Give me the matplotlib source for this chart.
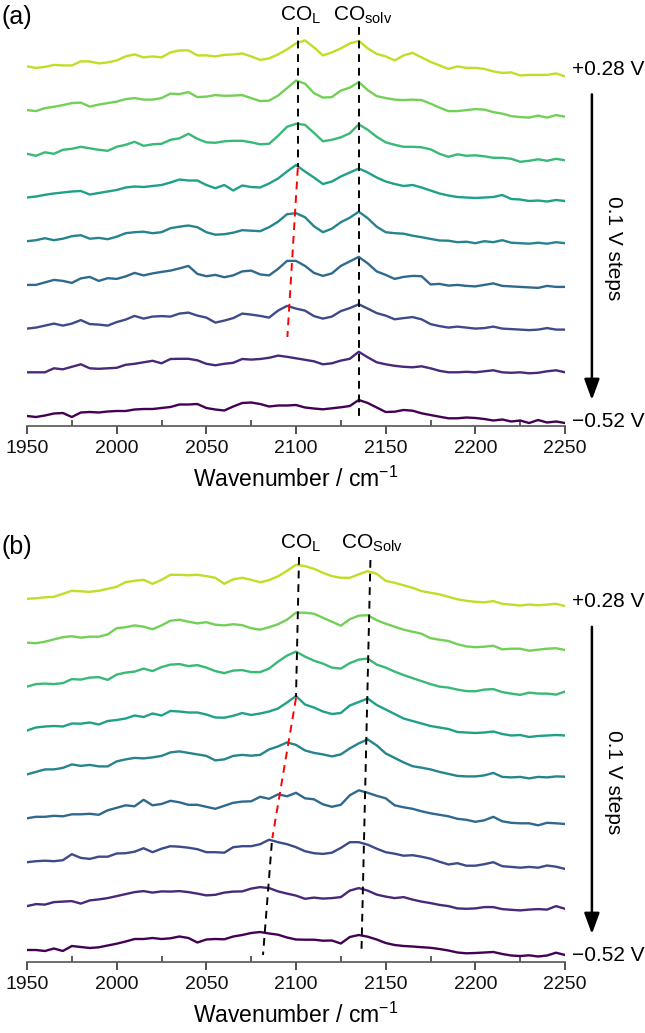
"""
In situ IR spectra, CO region, two potential series
"""
import numpy as np
import matplotlib
matplotlib.use("Agg")
import matplotlib.pyplot as plt
from matplotlib.ticker import MultipleLocator

plt.rcParams["font.family"] = ["Liberation Sans", "DejaVu Sans"]
plt.rcParams["mathtext.default"] = "regular"

# wavenumber grid, cm-1
wavenumber = np.arange(1950, 2251, 5)

potentials = ["+0.28 V", "+0.18 V", "+0.08 V", "\u22120.02 V", "\u22120.12 V",
              "\u22120.22 V", "\u22120.32 V", "\u22120.42 V", "\u22120.52 V"]

# panel (a) spectra, arb. units, relative to each spectrum's value at 1950 cm-1
a_p028 = [0, -1.5, -0.5, 1.5, 1, 1, 5, 5, 3, 4, 6,
          10, 12, 9, 10, 9, 14, 16, 16, 11, 11,
          10, 11.5, 12, 13, 10, 6.5, 8, 12, 17, 23,
          26, 19, 11, 14, 18, 23, 25.5, 18, 12.5, 10,
          6, 11, 13.5, 9, 4.5, 1, -2.5, 0, -1.5, -1.5,
          -2.5, -5, -6.5, -6, -9, -8.5, -8.5, -8.5, -7, -10]
a_p018 = [0, -1, 2, 3.3, 5, 7, 7.5, 3.5, 5.5, 7, 8.5,
          11, 12, 10.5, 10.5, 12, 16.5, 16, 18, 13, 13.5,
          15, 14.3, 14.5, 15, 12, 9, 9.5, 14.5, 22, 29.5,
          26.5, 17, 12.5, 13, 19.5, 22.5, 28, 20, 14, 12,
          10.5, 10, 10.5, 10, 6.5, 2.5, -1, -1, 0, 1,
          0.5, -2, -3.5, -6, -7, -7.5, -5.5, -7.5, -5, -6.5]
a_p008 = [0, -2, 1.5, 0, 4, 5, 7, 5.5, 4, 3, 7,
          9, 12, 8, 9.5, 10, 14, 15.5, 20, 15, 11.5,
          11, 12.5, 13, 13, 11.5, 9.5, 10, 18, 27, 30,
          29, 21, 12.5, 14, 16.5, 20.5, 29.5, 24, 17, 11.5,
          9, 7, 7, 6.5, 4.5, 0, -3, -0.5, -2, -1.5,
          -2.5, -4, -4, -5, -8, -7, -5.5, -7, -5, -6.5]
a_m002 = [0, 1, 2.7, 4, 5, 6, 6.5, 3, 4.5, 6, 7.5,
          10, 11, 10.5, 11.5, 12.5, 15, 18, 17, 17, 12.5,
          9.3, 12.5, 7, 12, 10.5, 10, 14, 19, 26, 32.5,
          26, 20, 13.5, 16, 21, 25, 29, 25, 20, 16,
          13.5, 11.5, 12.5, 10, 7, 4, 2, 0.5, 0, -0.5,
          0, 0.5, 2.5, -1.5, -2, -3.5, -3, -4, -2.5, -3.5]
a_m012 = [0, 1, 3, 1, 2.5, 5, 6, 2.5, 3.3, 2, 4.5,
          8, 9, 9.5, 8, 9, 13, 14.5, 15.7, 14, 9,
          6.5, 7, 8.5, 11, 10.5, 10, 14, 19.5, 27, 28,
          24, 15, 9, 12.5, 19, 23.5, 29.5, 23, 14.5, 9,
          8, 7.5, 5.5, 4, 2.3, 0.7, 0.5, -1, -0.5, -2,
          0, -1, 1, -1.5, -2, -2.5, -1.5, -2.5, -1, -2]
a_m022 = [0, 0, 2.5, 5, 4, 2, 6.5, 8, 4, 6.7, 6,
          8.5, 12, 9.5, 11.5, 13, 14.3, 16.5, 19, 11, 8.7,
          10, 7.7, 9.5, 13.5, 14.3, 10.5, 9.5, 16, 24, 24,
          19, 12, 9, 11.5, 19, 23.5, 28, 21.5, 13.5, 10,
          6, 8, 9, 8.7, 0.5, 1, -0.7, 0, -1, -1.5,
          0, 1.5, -1, -1.5, -2, -2.5, -3, -1, -2, -2]
a_m032 = [0, 1, 3, 5, 3, 5, 8.5, 4.5, 4, 3, 6.5,
          9, 12.7, 10, 12, 12.5, 12, 15, 16, 13, 11,
          6, 8, 10.5, 15, 14, 12.7, 11, 18, 22.7, 20,
          18, 12.5, 10, 12, 17.5, 20.5, 24.3, 20, 15.5, 13,
          9.3, 10.5, 11.5, 9.3, 4.5, 2.5, 1, 2, 1, 0,
          0.5, 2, 0, -0.5, -1, -1.5, -1, 0.5, -1, -1]
a_m042 = [0, 0, 0, 4, 3, 5.5, 8, 4, 3.5, 4, 4.5,
          7.5, 8.5, 10, 11.5, 9, 13.3, 13.5, 13.5, 12, 8.5,
          7, 8.5, 9.5, 13.3, 12.7, 13.3, 14.5, 16.7, 15.5, 14,
          12.5, 11, 8, 9, 11.7, 13.5, 20.5, 15, 10, 8,
          6.5, 5.5, 5, 6, 4, 1.5, 0, 0, 0.5, 0,
          1, 2, 0, -0.5, 0, -1, -0.5, 1, 2, 0]
a_m052 = [0, -1, 0.5, 2.5, 3, -1, 3.5, 4, 3.5, 4.5, 5,
          5, 6.5, 7, 7, 8, 9, 11.5, 11.5, 12, 8,
          6.5, 5.5, 9.5, 13, 13.5, 12, 9.5, 10.5, 10.5, 11,
          8.5, 7.5, 6.7, 7.7, 8.7, 10, 16, 13, 8.5, 4,
          4.3, 6, 5.3, 2.7, 1, -0.7, -2.3, -2.3, -1.5, -2,
          -3, -4.5, -3.5, -5.5, -4.5, -7, -4, -6.5, -5.5, -7]

# panel (b) spectra
b_p028 = [0, 0.5, 1.5, 2, 5, 8, 7.5, 7, 8, 10, 12,
          16.7, 18, 19, 15, 19, 24, 24, 23.5, 24, 22.7,
          21, 15, 19.5, 21, 19, 16.5, 18.7, 22.5, 28, 34,
          32.7, 30, 26, 22.7, 21, 21, 24.5, 27.7, 25, 18,
          16, 13.5, 11, 7.7, 6, 4.5, 2, -0.5, -2, -3,
          -3.5, -2.3, -5, -5.8, -6.7, -5.7, -6.5, -5.8, -5, -7.3]
b_p018 = [0, -0.5, 1, 3.3, 5.5, 6.5, 5, 6, 6, 8.3, 14.5,
          15.5, 17.3, 16, 13.5, 17.3, 22, 23, 21, 19.3, 20.5,
          18, 17.3, 18.5, 17.5, 14.5, 13, 15.5, 18.5, 23, 30,
          30, 29, 25, 21, 17, 23.5, 27, 27.5, 22.5, 19,
          16, 13, 11, 9, 4.5, 3, 1.7, -1.5, -3.7, -4.5,
          -4, -3, -6.7, -6, -6, -8, -7, -6, -5.5, -7.3]
b_p008 = [0, 2.5, 3, 2.5, 3.5, 7.5, 7, 9, 9.5, 6.7, 12,
          14, 15, 18, 15.5, 19.5, 22, 22.5, 20.5, 21.5, 19,
          15.5, 13.5, 16, 16.5, 14.5, 14.5, 18, 25, 31, 35,
          30, 26, 23, 19, 18, 23.5, 27, 28, 22, 19,
          15, 11.5, 8.5, 5.5, 2.5, 0, -1, -3, -4.5, -4.7,
          -3, -2.5, -5.5, -7, -8.3, -6, -7, -7, -8, -5]
b_m002 = [0, 3, 4, 4.5, 4, 7, 6.8, 8, 6, 9.5, 10.5,
          12, 15, 13.5, 17, 15, 19.5, 19, 18, 18, 16,
          13, 12.8, 14.7, 17.5, 15.5, 17, 19, 22, 28, 34.5,
          26, 23, 19, 16.5, 17.5, 25, 28.5, 32, 25.5, 21,
          16.5, 12, 9.5, 7, 4.5, 3, 1.5, -1.5, -2, -2.5,
          -2, -1, -3.5, -5, -4.5, -6.5, -5.5, -5, -4.5, -5]
b_m012 = [0, 2.5, 5, 5, 6.5, 10, 8.5, 9.5, 8, 8, 13,
          15, 16.5, 16, 17, 18.5, 22, 23, 21.5, 20, 18.5,
          14, 15, 18.5, 19.5, 18.7, 19.5, 25, 28, 32, 29.5,
          24, 21.5, 20, 18, 20, 26, 31, 35, 29, 21,
          16.5, 12, 8.2, 6.7, 5, 2.5, 0.5, -1.5, -2, -2,
          -1, 1.5, -2.5, -3, -2.5, -4, -2.5, -3, -2, -2.3]
b_m022 = [0, 1.5, 1.5, 2.5, 2, 4, 4, 4.5, 3.5, 8, 10.5,
          13, 12, 18.5, 13, 14.3, 17.5, 16, 13.5, 13.5, 11.5,
          9.5, 12.5, 15.5, 16.7, 17, 21.5, 19.5, 24, 22, 25.5,
          20, 19, 14, 11.5, 13.5, 23, 28, 25.5, 22.5, 20,
          13, 11, 9.5, 7, 5, 3.5, 2, -0.5, -1.5, -3.5,
          -2, 1.5, -3, -4.5, -5, -5, -7, -4.5, -5, -5.7]
b_m032 = [0, 1, 1.5, 1, 2, 8, 4.3, 3.3, 5.5, 5.5, 8.7,
          9, 10.5, 14, 10, 13.5, 16, 15.5, 14.5, 13, 10,
          10, 9.5, 15, 16, 16, 18, 22.5, 20, 18, 15,
          11, 9, 8.3, 9.5, 14.3, 20, 20, 17.5, 13.5, 10,
          8.5, 6.5, 7, 5.5, 3.5, 0.5, -2.3, -1, -3.5, -3.5,
          -2, 0, -4, -4.7, -5.5, -4.7, -5.5, -3.3, -4.5, -6.7]
b_m042 = [0, 2, 1.5, 4, 4.5, 5, 2.5, 5.7, 6.7, 8, 10,
          12, 14, 15, 13.5, 14.7, 14.5, 15, 14, 12.5, 10.7,
          11.3, 13.5, 14.5, 14.7, 17.5, 19, 18, 14.7, 12.5, 10.5,
          7.3, 8.5, 7.5, 8, 9, 15.5, 18, 15.5, 11.5, 9.5,
          8, 9, 6.5, 4.5, 3, 1.2, 0, -2.3, -2.7, -2.3,
          -1, -1, -3, -3.7, -4.3, -3.5, -3, -3.5, 0, -2.7]
b_m052 = [0, 0, -1, 1.5, -1, 4, 3, 2, 2.7, 4.5, 6.3,
          8.5, 11, 11, 12, 11, 11.7, 13.5, 12, 7.5, 10.5,
          11, 10.7, 13.5, 15, 17, 18, 16.5, 15.3, 12.5, 10.5,
          10.3, 10.3, 9.3, 9.5, 6.5, 13, 15, 13.3, 10.5, 7,
          5, 4, 3.5, 2.8, 2.2, 1, -0.5, -2.5, -3.3, -3,
          -2.5, -2, -4, -5.5, -6, -5.3, -6.5, -5.5, -2.7, -5]

spectra_a = [a_p028, a_p018, a_p008, a_m002, a_m012, a_m022, a_m032, a_m042, a_m052]
spectra_b = [b_p028, b_p018, b_p008, b_m002, b_m012, b_m022, b_m032, b_m042, b_m052]

# peak guide lines: (wavenumbers, heights, colour)
guides_a = [([2101, 2101], [389, 249], "k"),
            ([2101, 2095.2], [248, 79], "red"),
            ([2135.2, 2135.2], [389, -4], "k")]
guides_b = [([2101.7, 2100], [393, 253], "k"),
            ([2100, 2086.8], [252, 112], "red"),
            ([2086.5, 2081.6], [107, -5], "k"),
            ([2141.5, 2136.5], [390, -2], "k")]

colors = plt.cm.viridis(np.linspace(0.9, 0.0, 9))


def draw_panel(ax, spectra, guides, spacing, ylim, co_y, solv_label, solv_x):
    n = len(spectra)
    for i, spec in enumerate(spectra):
        offset = (n - 1 - i) * spacing
        ax.plot(wavenumber, np.array(spec) + offset, color=colors[i], lw=1.7,
                solid_joinstyle="round")
    for xs, ys, c in guides:
        ax.plot(xs, ys, color=c, lw=1.4, dashes=(4, 3), zorder=5)

    ax.set_xlim(1950, 2250)
    ax.set_ylim(*ylim)
    ax.xaxis.set_major_locator(MultipleLocator(50))
    ax.xaxis.set_minor_locator(MultipleLocator(25))
    ax.tick_params(which="major", direction="out", length=6, width=1.2,
                   labelsize=14, pad=4, colors="#333333", labelcolor="#111111")
    ax.tick_params(which="minor", direction="in", length=4, width=1.1,
                   colors="#333333")
    ax.set_yticks([])
    for side in ["left", "right", "top"]:
        ax.spines[side].set_visible(False)
    ax.spines["bottom"].set_color("#555555")
    ax.spines["bottom"].set_linewidth(1.2)
    ax.set_xlabel("Wavenumber / cm$^{-1}$", fontsize=16.5, labelpad=7)

    ax.text(2102.5, co_y, "CO$_{L}$", fontsize=15, ha="center", va="center",
            clip_on=False)
    ax.text(solv_x, co_y, solv_label, fontsize=15, ha="center", va="center",
            clip_on=False)

    top = (n - 1) * spacing
    ax.text(2254, top - 3, potentials[0], fontsize=15, ha="left", va="center",
            clip_on=False)
    ax.text(2254, -5.5, potentials[-1], fontsize=15, ha="left", va="center",
            clip_on=False)
    ax.annotate("", xy=(2265, 16), xytext=(2265, top - 28),
                arrowprops=dict(arrowstyle="-|>,head_length=0.9,head_width=0.33",
                                lw=1.8, color="k", mutation_scale=14,
                                shrinkA=0, shrinkB=0),
                annotation_clip=False)
    ax.text(2277, 168, "0.1 V steps", fontsize=15, rotation=270, ha="center",
            va="center", clip_on=False)


fig = plt.figure(figsize=(6.45, 10.33), dpi=100)
H = 1033.0
W = 645.0
ax_a = fig.add_axes([27 / W, (H - 426) / H, 538 / W, 426 / H])
ax_b = fig.add_axes([27 / W, (H - 962) / H, 538 / W, 422 / H])

draw_panel(ax_a, spectra_a, guides_a, 43.7, (-10, 416), 401,
           "CO$_{solv}$", 2137)
draw_panel(ax_b, spectra_b, guides_b, 43.9, (-12, 410), 407,
           "CO$_{Solv}$", 2142.5)

fig.text(0.003, 1 - 17 / H, "(a)", fontsize=18, va="center", ha="left")
fig.text(0.003, 1 - 547 / H, "(b)", fontsize=18, va="center", ha="left")

fig.savefig("out.png", dpi=100)
